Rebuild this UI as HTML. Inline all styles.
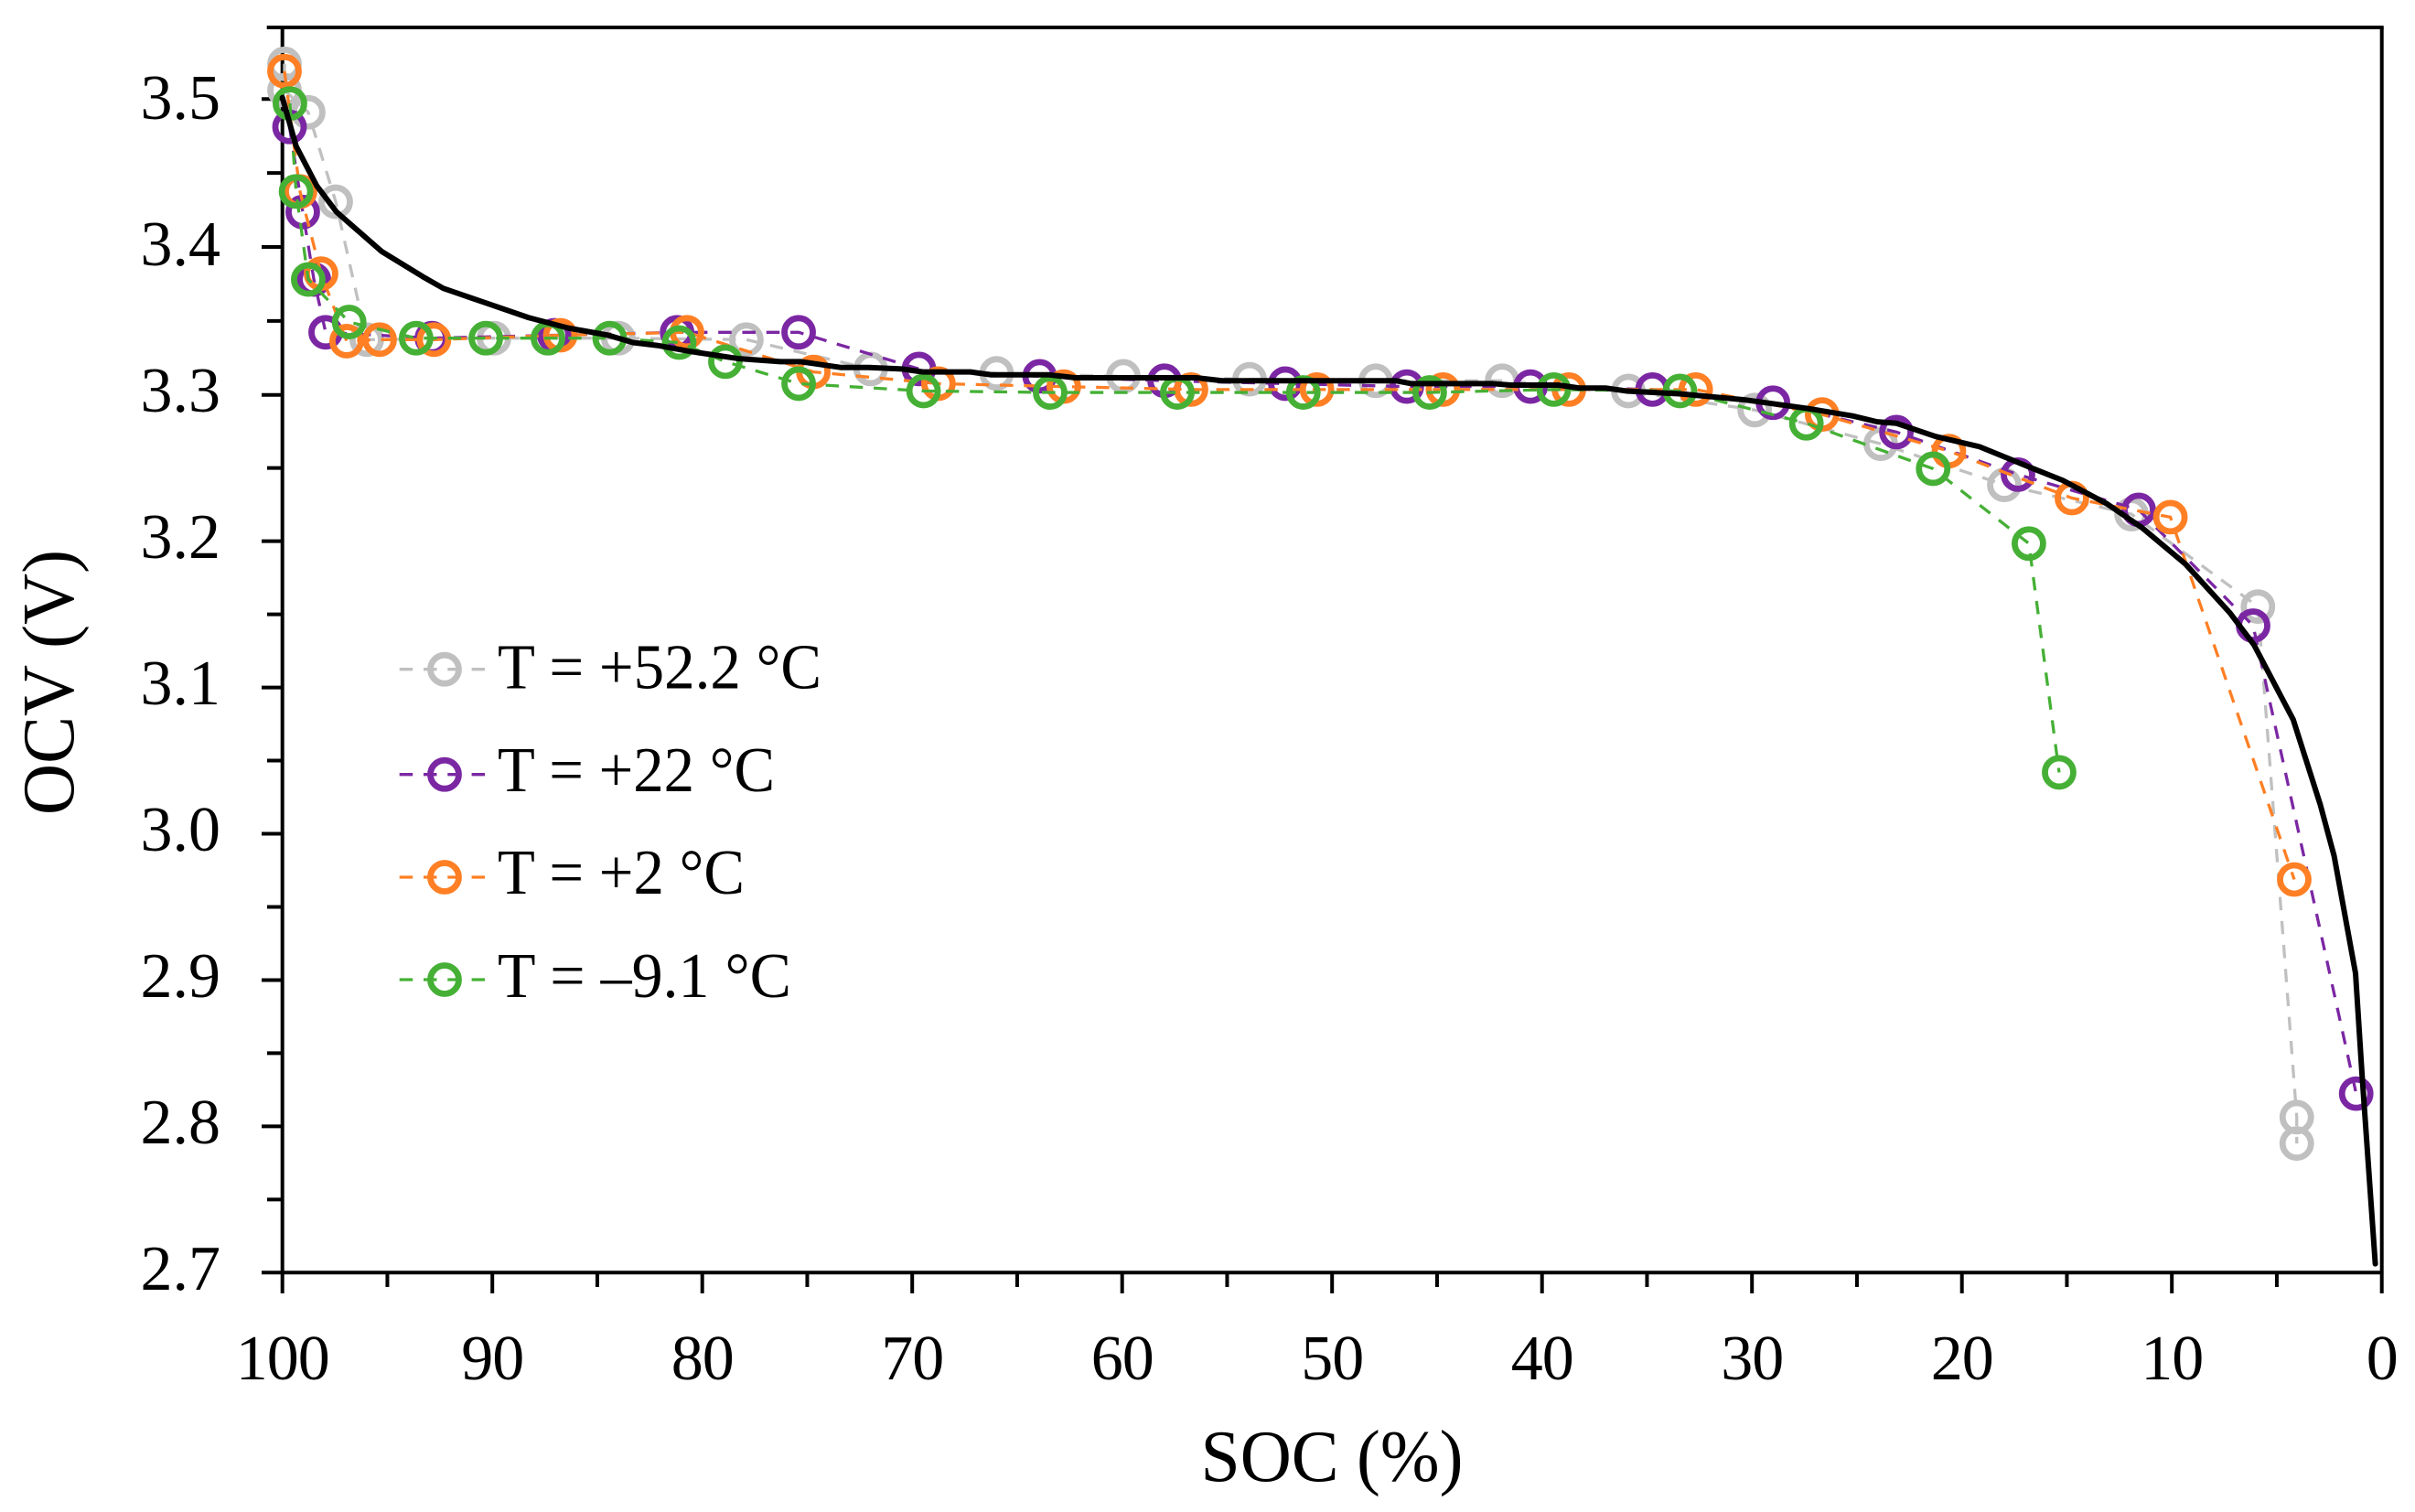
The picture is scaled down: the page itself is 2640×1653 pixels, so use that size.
<!DOCTYPE html>
<html lang="en">
<head>
<meta charset="utf-8">
<title>OCV versus SOC</title>
<style>
html,body{margin:0;padding:0;background:#fff;}
svg{display:block;}
text{font-family:"Liberation Serif",serif;fill:#000;}
</style>
</head>
<body>
<svg id="chart" xmlns="http://www.w3.org/2000/svg" width="2640" height="1653" viewBox="0 0 2640 1653">
  <rect x="0" y="0" width="2640" height="1653" fill="#ffffff"/>
  <g id="axes"></g>
  <g id="series"></g>
  <text x="80" y="746" transform="rotate(-90 80 746)" text-anchor="middle" font-size="81" textLength="290" lengthAdjust="spacingAndGlyphs">OCV (V)</text>
  <text x="1456" y="1619" text-anchor="middle" font-size="81" textLength="287" lengthAdjust="spacingAndGlyphs">SOC (%)</text>
  <g>
    <g>
      <line x1="436.7" y1="731.7" x2="530" y2="731.7" stroke="#c0c0c0" stroke-width="3.3" stroke-dasharray="14.5 11.8"/>
      <circle cx="486" cy="731.7" r="15.5" fill="none" stroke="#c0c0c0" stroke-width="6.8"/>
      <text x="544" y="752.7" font-size="70" textLength="354" lengthAdjust="spacingAndGlyphs">T = +52.2 °C</text>
    </g>
    <g>
      <line x1="436.7" y1="846.7" x2="530" y2="846.7" stroke="#7b27a3" stroke-width="3.3" stroke-dasharray="14.5 11.8"/>
      <circle cx="486" cy="846.7" r="15.5" fill="none" stroke="#7b27a3" stroke-width="6.8"/>
      <text x="544" y="865" font-size="70" textLength="303" lengthAdjust="spacingAndGlyphs">T = +22 °C</text>
    </g>
    <g>
      <line x1="436.7" y1="959" x2="530" y2="959" stroke="#ff7f24" stroke-width="3.3" stroke-dasharray="14.5 11.8"/>
      <circle cx="486" cy="959" r="15.5" fill="none" stroke="#ff7f24" stroke-width="6.8"/>
      <text x="544" y="977" font-size="70" textLength="270" lengthAdjust="spacingAndGlyphs">T = +2 °C</text>
    </g>
    <g>
      <line x1="436.7" y1="1071" x2="530" y2="1071" stroke="#45b035" stroke-width="3.3" stroke-dasharray="14.5 11.8"/>
      <circle cx="486" cy="1071" r="15.5" fill="none" stroke="#45b035" stroke-width="6.8"/>
      <text x="544" y="1090" font-size="70" textLength="321" lengthAdjust="spacingAndGlyphs">T = –9.1 °C</text>
    </g>
  </g>
</svg>
<script>
// Chart data
const xMajorTicks = [100, 90, 80, 70, 60, 50, 40, 30, 20, 10, 0];
const xMinorTicks = [95, 85, 75, 65, 55, 45, 35, 25, 15, 5];
const yMajorTicks = ["2.7", "2.8", "2.9", "3.0", "3.1", "3.2", "3.3", "3.4", "3.5"];
const yMinorTicks = [2.75, 2.85, 2.95, 3.05, 3.15, 3.25, 3.35, 3.45];

const socHot = [99.9, 99.9, 98.77, 97.46, 95.98, 89.92, 84.0, 77.9, 71.98, 65.98, 59.94, 53.93, 47.92, 41.9, 35.89, 29.87, 23.87, 17.98, 11.92, 5.9, 4.05, 4.05];
const ocvHot = [3.524, 3.506, 3.491, 3.430, 3.336, 3.337, 3.337, 3.336, 3.316, 3.313, 3.311, 3.309, 3.308, 3.308, 3.301, 3.288, 3.265, 3.237, 3.217, 3.154, 2.806, 2.788];

const socRoom = [99.66, 99.03, 98.5, 97.94, 92.88, 87.05, 81.2, 75.41, 69.68, 63.93, 57.98, 52.23, 46.44, 40.55, 34.74, 29.0, 23.12, 17.33, 11.58, 6.13, 1.22];
const ocvRoom = [3.481, 3.423, 3.377, 3.341, 3.337, 3.339, 3.341, 3.341, 3.316, 3.311, 3.308, 3.306, 3.304, 3.304, 3.302, 3.293, 3.273, 3.244, 3.220, 3.141, 2.822];

const socCool = [99.9, 99.16, 98.16, 96.94, 95.37, 92.78, 86.76, 80.73, 74.71, 68.75, 62.78, 56.72, 50.72, 44.72, 38.72, 32.68, 26.66, 20.62, 14.76, 10.07, 4.17];
const ocvCool = [3.519, 3.437, 3.381, 3.335, 3.336, 3.336, 3.339, 3.341, 3.314, 3.306, 3.304, 3.302, 3.302, 3.302, 3.302, 3.302, 3.285, 3.260, 3.228, 3.215, 2.968];

const socCold = [99.64, 99.35, 98.77, 96.82, 93.63, 90.31, 87.35, 84.41, 81.1, 78.9, 75.41, 69.46, 63.43, 57.37, 51.37, 45.35, 39.44, 33.43, 27.41, 21.37, 16.81, 15.37];
const ocvCold = [3.497, 3.437, 3.377, 3.348, 3.337, 3.337, 3.337, 3.337, 3.334, 3.321, 3.306, 3.301, 3.300, 3.300, 3.300, 3.300, 3.302, 3.301, 3.279, 3.248, 3.197, 3.041];

const socModel = [100, 99.35, 98.37, 97.42, 95.26, 93.32, 92.34, 90.31, 88.27, 86.41, 84.48, 83.3, 82.12, 80.58, 78.24, 76.28, 75.32, 73.38, 72.06, 70.49, 69.49, 67.23, 66.23, 63.47, 62.23, 56.47, 55.24, 46.97, 46.22, 42.34, 41.47, 39.22, 38.22, 36.98, 35.98, 33.39, 30.36, 27.31, 25.21, 24.04, 23.12, 21.25, 19.16, 16.59, 15.19, 13.08, 11.44, 9.35, 7.25, 6.09, 4.22, 2.93, 2.27, 1.25, 0.95, 0.31];
const ocvModel = [3.501, 3.468, 3.441, 3.423, 3.396, 3.379, 3.371, 3.361, 3.351, 3.344, 3.339, 3.334, 3.332, 3.328, 3.323, 3.321, 3.321, 3.317, 3.317, 3.316, 3.314, 3.314, 3.312, 3.312, 3.310, 3.310, 3.308, 3.308, 3.306, 3.306, 3.305, 3.305, 3.303, 3.303, 3.301, 3.299, 3.295, 3.289, 3.284, 3.280, 3.279, 3.270, 3.263, 3.248, 3.240, 3.224, 3.208, 3.183, 3.150, 3.128, 3.077, 3.019, 2.984, 2.904, 2.837, 2.706];

// Axis functions
const NS = "http://www.w3.org/2000/svg";
function xScale(soc) { return 308.7 + (100 - soc) * 22.95; }
function yScale(v) { return 1391.3 - (v - 2.7) * 1603.75; }
// The reference's y tick marks are slightly uneven above 3.3 V.
function yTickPos(v) {
  return v <= 3.3 ? 1391.3 - (v - 2.7) * 1599.3 : 431.7 - (v - 3.3) * 1617;
}
function yLabelBaseline(v) { return 1410 - (v - 2.7) * 1600; }

const axes = document.getElementById("axes");
const seriesLayer = document.getElementById("series");
const frameTop = 30;
const frameLeft = xScale(100);
const frameRight = xScale(0);
const frameBottom = yTickPos(2.7);

function makeLine(x1, y1, x2, y2) {
  const l = document.createElementNS(NS, "line");
  l.setAttribute("x1", x1);
  l.setAttribute("y1", y1);
  l.setAttribute("x2", x2);
  l.setAttribute("y2", y2);
  l.setAttribute("stroke", "#000");
  l.setAttribute("stroke-width", "4");
  return l;
}

const leftAxis = makeLine(frameLeft, frameTop, frameLeft, 1414);


axes.appendChild(leftAxis);

const rightEdge = makeLine(frameRight, frameTop, frameRight, 1414);


axes.appendChild(rightEdge);

const topEdge = makeLine(291.7, frameTop, frameRight + 2, frameTop);


axes.appendChild(topEdge);

const bottomAxis = makeLine(286, frameBottom, frameRight, frameBottom);


axes.appendChild(bottomAxis);

xMajorTicks.forEach(function (t) {
  if (t !== 100 && t !== 0) {
    const tick = makeLine(xScale(t), frameBottom, xScale(t), 1414);
    
    
    axes.appendChild(tick);
  }
  const label = document.createElementNS(NS, "text");
  label.setAttribute("x", xScale(t));
  label.setAttribute("y", 1508);
  label.setAttribute("text-anchor", "middle");
  label.setAttribute("font-size", "70");
  label.setAttribute("letter-spacing", "-1");
  label.textContent = String(t);
  
  
  axes.appendChild(label);
});

xMinorTicks.forEach(function (t) {
  const tick = makeLine(xScale(t), frameBottom, xScale(t), 1407);
  
  
  axes.appendChild(tick);
});

yMajorTicks.forEach(function (t) {
  const v = parseFloat(t);
  if (v !== 2.7) {
    const tick = makeLine(286, yTickPos(v), frameLeft, yTickPos(v));
    
    
    axes.appendChild(tick);
  }
  const label = document.createElementNS(NS, "text");
  label.setAttribute("x", 241);
  label.setAttribute("y", yLabelBaseline(v));
  label.setAttribute("text-anchor", "end");
  label.setAttribute("font-size", "70");
  label.textContent = t;
  
  
  axes.appendChild(label);
});

yMinorTicks.forEach(function (t) {
  const tick = makeLine(292, yTickPos(t), frameLeft, yTickPos(t));
  
  
  axes.appendChild(tick);
});

function pathFrom(xs, ys) {
  return xs.map(function (s, i) {
    return (i ? "L" : "M") + xScale(s).toFixed(2) + " " + yScale(ys[i]).toFixed(2);
  }).join(" ");
}

function drawSeries(socs, ocvs, color, seriesName) {
  const g = document.createElementNS(NS, "g");
  
  

  const p = document.createElementNS(NS, "path");
  p.setAttribute("d", pathFrom(socs, ocvs));
  p.setAttribute("fill", "none");
  p.setAttribute("stroke", color);
  p.setAttribute("stroke-width", "3.3");
  p.setAttribute("stroke-dasharray", "14.5 11.8");
  
  
  g.appendChild(p);

  socs.forEach(function (s, i) {
    const c = document.createElementNS(NS, "circle");
    c.setAttribute("cx", xScale(s));
    c.setAttribute("cy", yScale(ocvs[i]));
    c.setAttribute("r", "15.5");
    c.setAttribute("fill", "none");
    c.setAttribute("stroke", color);
    c.setAttribute("stroke-width", "6.8");
    
    
    g.appendChild(c);
  });
  seriesLayer.appendChild(g);
}

drawSeries(socHot, ocvHot, "#c0c0c0", "series-plus-52-2c");
drawSeries(socRoom, ocvRoom, "#7b27a3", "series-plus-22c");
drawSeries(socCool, ocvCool, "#ff7f24", "series-plus-2c");
drawSeries(socCold, ocvCold, "#45b035", "series-minus-9-1c");

const modelLine = document.createElementNS(NS, "path");
modelLine.setAttribute("d", pathFrom(socModel, ocvModel));
modelLine.setAttribute("fill", "none");
modelLine.setAttribute("stroke", "#000");
modelLine.setAttribute("stroke-width", "6");
modelLine.setAttribute("stroke-linecap", "round");
modelLine.setAttribute("stroke-linejoin", "round");


seriesLayer.appendChild(modelLine);
</script>
</body>
</html>
